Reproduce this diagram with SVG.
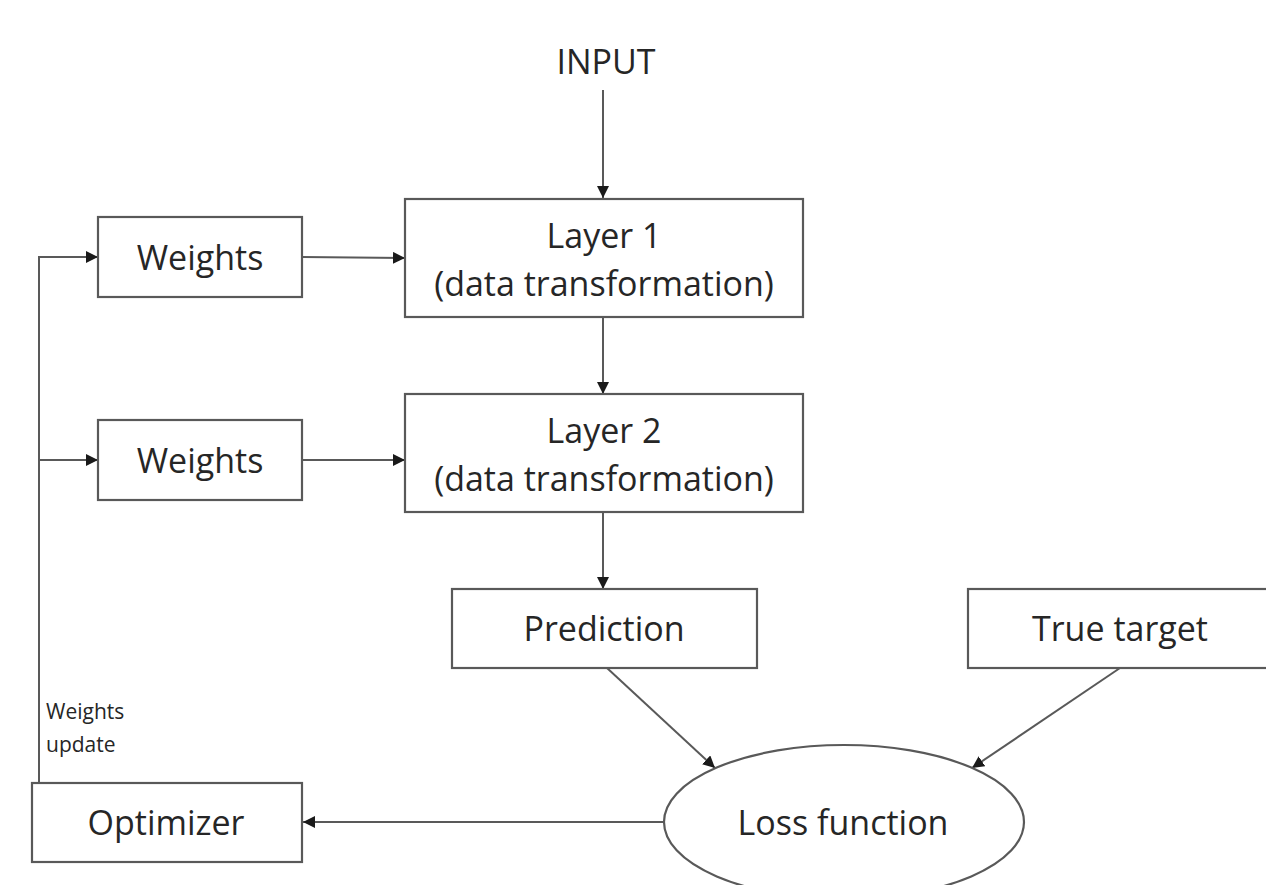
<svg xmlns="http://www.w3.org/2000/svg" width="1266" height="885" viewBox="0 0 1266 885">
<defs>
<style>
.box{fill:#fff;stroke:#595959;stroke-width:2.2}
.ln{fill:none;stroke:#595959;stroke-width:2}
.t{font-family:"Open Sans","Liberation Sans",sans-serif;fill:#262626;text-anchor:middle}
.big{font-size:34px}
.sm{font-size:21px;text-anchor:start}
</style>
<marker id="ah" viewBox="0 0 10 10" refX="10" refY="5" markerWidth="12" markerHeight="12" markerUnits="userSpaceOnUse" orient="auto">
<path d="M0,0 L10,5 L0,10 z" fill="#1a1a1a"/>
</marker>
</defs>
<rect width="1266" height="885" fill="#fff"/>
<g id="connectors">
<line class="ln" x1="603" y1="90" x2="603" y2="198" marker-end="url(#ah)"/>
<line class="ln" x1="302" y1="257" x2="405" y2="258" marker-end="url(#ah)"/>
<line class="ln" x1="603" y1="317" x2="603" y2="394" marker-end="url(#ah)"/>
<line class="ln" x1="302" y1="460" x2="405" y2="460" marker-end="url(#ah)"/>
<line class="ln" x1="603" y1="512" x2="603" y2="589" marker-end="url(#ah)"/>
<line class="ln" x1="607" y1="668" x2="715" y2="768" marker-end="url(#ah)"/>
<line class="ln" x1="1120" y1="668" x2="972" y2="768" marker-end="url(#ah)"/>
<line class="ln" x1="664" y1="822" x2="303" y2="822" marker-end="url(#ah)"/>
<polyline class="ln" points="39,783 39,257 98,257" marker-end="url(#ah)"/>
<line class="ln" x1="39" y1="460" x2="98" y2="460" marker-end="url(#ah)"/>
<text class="t sm" x="46" y="719">Weights</text>
<text class="t sm" x="46" y="752">update</text>
</g>
<g id="input"><text class="t big" x="606" y="74">INPUT</text></g>
<g id="weights1"><rect class="box" x="98" y="217" width="204" height="80"/><text class="t big" x="200" y="270">Weights</text></g>
<g id="layer1"><rect class="box" x="405" y="199" width="398" height="118"/><text class="t big" x="604" y="248">Layer 1</text><text class="t big" x="604" y="296">(data transformation)</text></g>
<g id="weights2"><rect class="box" x="98" y="420" width="204" height="80"/><text class="t big" x="200" y="473">Weights</text></g>
<g id="layer2"><rect class="box" x="405" y="394" width="398" height="118"/><text class="t big" x="604" y="443">Layer 2</text><text class="t big" x="604" y="491">(data transformation)</text></g>
<g id="prediction"><rect class="box" x="452" y="589" width="305" height="79"/><text class="t big" x="604" y="641">Prediction</text></g>
<g id="truetarget"><rect class="box" x="968" y="589" width="310" height="79"/><text class="t big" x="1120" y="641">True target</text></g>
<g id="loss"><ellipse class="box" cx="844" cy="822" rx="180" ry="77"/><text class="t big" x="843" y="835">Loss function</text></g>
<g id="optimizer"><rect class="box" x="32" y="783" width="270" height="79"/><text class="t big" x="166" y="835">Optimizer</text></g>
</svg>
